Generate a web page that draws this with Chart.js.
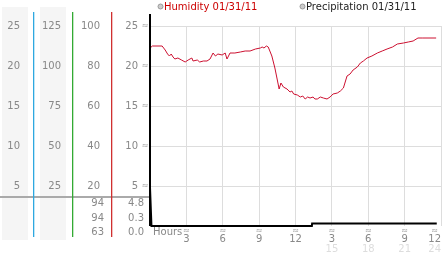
<!DOCTYPE html>
<html>
<head>
<meta charset="utf-8">
<script src="https://cdn.jsdelivr.net/npm/chart.js@4"></script>
<style>
  html, body { margin: 0; padding: 0; background: #fff; }
  canvas { display: block; }
</style>
</head>
<body>
<canvas id="chart" width="442" height="253"></canvas>
<script>
// humidity readings (hour of day, %)
const humHours = [0, 0.2, 1.0, 1.25, 1.45, 1.6, 1.75, 1.9, 2.05, 2.3, 2.6, 2.9, 3.15, 3.45, 3.55, 3.9, 4.1, 4.4, 4.7, 4.95,
  5.2, 5.4, 5.6, 5.95, 6.2, 6.35, 6.6, 7.0, 7.45, 7.85, 8.25, 8.7, 9.1, 9.25, 9.4, 9.6, 9.75, 10.05, 10.3, 10.5,
  10.65, 10.8, 11.0, 11.3, 11.55, 11.7, 11.85, 12.15, 12.4, 12.6, 12.8, 13.0, 13.2, 13.45, 13.6, 13.8, 14.05, 14.3, 14.6, 14.85,
  15.1, 15.45, 15.7, 15.95, 16.1, 16.25, 16.5, 16.75, 17.1, 17.35, 17.6, 17.9, 18.3, 18.75, 19.15, 19.55, 20.0, 20.4, 20.9, 21.3,
  21.7, 22.1, 22.5, 23.6];
const humidity = [89, 90, 90, 88, 86, 85, 86, 84.5, 83.5, 84, 83, 82, 83, 84, 82.5, 83, 82, 82.5, 82.5, 83.5,
  86.5, 85, 86, 85.5, 86.5, 83.5, 86.5, 86.5, 87, 87.5, 87.5, 88.5, 89, 89.5, 89, 90, 89.5, 85, 79, 73,
  68.5, 71.5, 69.5, 68.5, 67, 67.5, 66, 65.5, 64.5, 65, 63.5, 64.5, 64, 64.5, 63.5, 63.5, 64.5, 64, 63.5, 64.5,
  66, 66.5, 67.5, 69, 72, 75, 76, 78, 79.5, 81.5, 82.5, 84, 85, 86.5, 87.5, 88.5, 89.5, 91, 91.5, 92,
  92.5, 94, 94, 94];

// precipitation readings (hour of day, value)
const precipHours = [0, 0.12, 13.35, 13.37, 23.65];
const precipitation = [4.8, 0, 0, 0.3, 0.3];

// x axis labels
const hourTicks = [3, 6, 9, 12, 15, 18, 21, 24];
const hourLabels = ['3', '6', '9', '12', '3', '6', '9', '12'];
const hourLabels24 = ['', '', '', '', '15', '18', '21', '24'];

// max / current / min readouts
const humidityStats = ['94', '94', '63'];
const precipStats = ['4.8', '0.3', '0.0'];

const legendNames = ['Humidity 01/31/11', 'Precipitation 01/31/11'];
const legendColors = ['#cc0000', '#222222'];

const FONT = { family: 'DejaVu Sans', size: 10 };
const TXT = '#888';

function sideAxis(min, max, step, width, pad, weight, withGrid) {
  return {
    type: 'linear', position: 'left', min, max, weight,
    ticks: { stepSize: step, padding: pad, color: TXT, font: FONT,
      callback: v => v === 0 ? '' : v },
    grid: withGrid
      ? { color: c => c.tick.value === 0 ? 'rgba(0,0,0,0)' : '#dddddd', drawTicks: false }
      : { display: false, drawTicks: false },
    border: { display: false },
    afterFit: s => { s.width = width; }
  };
}

const decor = {
  id: 'decor',
  beforeDraw(chart) {
    const ctx = chart.ctx;
    const s = chart.scales;
    ctx.save();
    ctx.fillStyle = '#f5f5f5';
    ctx.fillRect(s.yC1.left + 2, 7, s.yC1.right - s.yC1.left - 7, 233);
    ctx.fillRect(s.yC2.left + 7, 7, s.yC2.right - s.yC2.left - 13, 233);
    ctx.restore();
  },
  afterDraw(chart) {
    const ctx = chart.ctx;
    const s = chart.scales;
    const area = chart.chartArea;
    ctx.save();

    // separator above readouts
    ctx.fillStyle = '#aaaaaa';
    ctx.fillRect(0, 196, area.left, 2);

    // coloured axis rules
    [[s.yC1, '#2ea8e0'], [s.yC2, '#33aa33'], [s.yHum, '#d03030']].forEach(([sc, col]) => {
      ctx.fillStyle = col;
      ctx.fillRect(Math.round(sc.right), 12, 1.3, 225);
    });

    // main axis
    ctx.fillStyle = '#000';
    ctx.fillRect(area.left - 1, 14, 2, area.bottom - 14);

    // small marks on the y axis
    ctx.fillStyle = '#999';
    ctx.font = '8px DejaVu Sans';
    ctx.textAlign = 'center';
    ctx.textBaseline = 'middle';
    s.yPre.ticks.forEach(t => {
      if (t.value === 0) return;
      ctx.fillText('≈', area.left - 5, s.yPre.getPixelForValue(t.value));
    });

    // x labels
    ctx.font = '10px DejaVu Sans';
    hourTicks.forEach((h, i) => {
      let px = s.x.getPixelForValue(h);
      const w = ctx.measureText(hourLabels[i]).width;
      px = Math.min(px, chart.width - w / 2 - 1);
      ctx.fillStyle = '#999';
      ctx.font = '8px DejaVu Sans';
      ctx.fillText('≈', px, 231);
      ctx.font = '10px DejaVu Sans';
      ctx.fillStyle = TXT;
      ctx.fillText(hourLabels[i], px, 239);
      ctx.fillStyle = '#dddddd';
      ctx.fillText(hourLabels24[i], px, 249.5);
    });
    ctx.textAlign = 'left';
    ctx.fillStyle = TXT;
    ctx.fillText('Hours', area.left + 3, 232);

    // readouts
    ctx.textAlign = 'right';
    [203.5, 218, 232].forEach((y, i) => {
      ctx.fillText(humidityStats[i], s.yHum.right - 7, y);
      ctx.fillText(precipStats[i], s.yPre.right - 6, y);
    });

    // legend
    ctx.textAlign = 'left';
    ctx.textBaseline = 'alphabetic';
    [[160.5, 164], [302.5, 306]].forEach(([cx, tx], i) => {
      ctx.beginPath();
      ctx.arc(cx, 6.5, 2.5, 0, Math.PI * 2);
      ctx.fillStyle = '#cccccc';
      ctx.fill();
      ctx.strokeStyle = '#999';
      ctx.lineWidth = 1;
      ctx.stroke();
      ctx.fillStyle = legendColors[i];
      ctx.fillText(legendNames[i], tx, 10);
    });
    ctx.restore();
  }
};

new Chart(document.getElementById('chart'), {
  type: 'line',
  data: {
    datasets: [{
      label: legendNames[0],
      data: humHours.map((h, i) => ({ x: h, y: humidity[i] })),
      yAxisID: 'yHum',
      borderColor: '#cc1030',
      borderWidth: 1,
      pointRadius: 0,
      tension: 0
    }, {
      label: legendNames[1],
      data: precipHours.map((h, i) => ({ x: h, y: precipitation[i] })),
      yAxisID: 'yPre',
      borderColor: '#000000',
      borderWidth: 2,
      pointRadius: 0,
      tension: 0,
      clip: 2
    }]
  },
  options: {
    responsive: false,
    animation: false,
    devicePixelRatio: 1,
    layout: { padding: { top: 26, right: 1, left: 0, bottom: 0 } },
    plugins: { legend: { display: false }, tooltip: { enabled: false } },
    scales: {
      x: {
        type: 'linear', min: 0, max: 24,
        ticks: { stepSize: 3, display: false },
        grid: { color: '#dddddd', drawTicks: false },
        border: { display: false },
        afterFit: s => { s.height = 27; }
      },
      yC1: sideAxis(0, 25, 5, 33, 13, 4, false),
      yC2: sideAxis(0, 125, 25, 39, 11, 3, false),
      yHum: sideAxis(0, 100, 20, 39, 11, 2, false),
      yPre: sideAxis(0, 25, 5, 39, 12, 1, true)
    }
  },
  plugins: [decor]
});
</script>
</body>
</html>
